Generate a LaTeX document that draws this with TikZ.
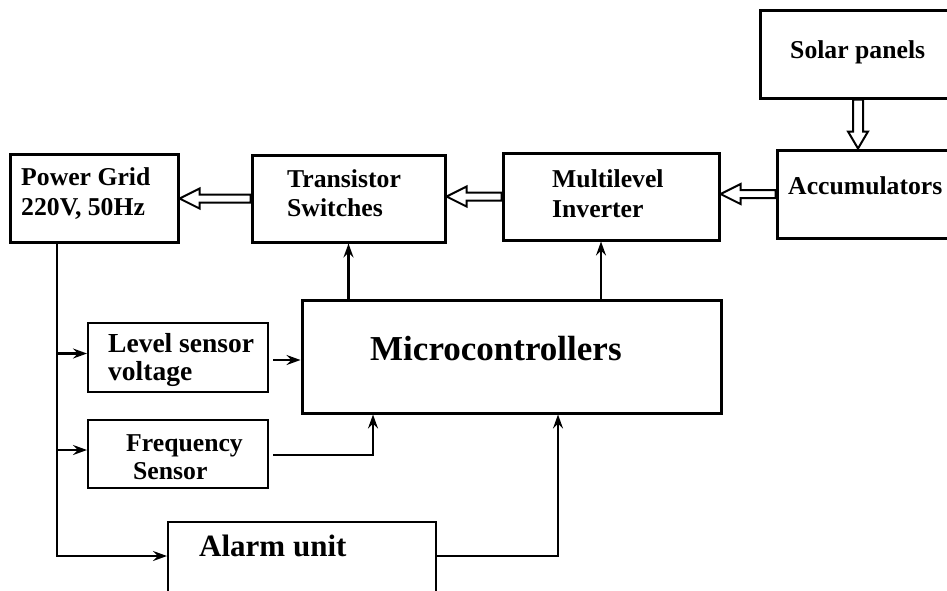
\documentclass[tikz,border=0pt]{standalone}
\usepackage{fontspec}
\setmainfont{Liberation Serif}
\usetikzlibrary{arrows.meta,calc}
\tikzset{
 box/.style={draw, line width=3pt, inner sep=0pt, rectangle},
 thinbox/.style={draw, line width=2pt, inner sep=0pt, rectangle},
 lbl/.style={anchor=base west, inner sep=0pt, font=\fontsize{25.7}{30}\selectfont\bfseries},
 conn/.style={line width=2.2pt, -{Stealth[length=14pt,width=10pt,inset=5pt]}},
 hollow/.style={draw, line width=2pt, fill=white, line join=miter},
}
\newcommand\hollowleft[2]{\path[hollow] let \p1=(#1), \p2=(#2) in (\x1,{\y1+4pt}) -- ({\x2+20pt},{\y1+4pt}) -- ({\x2+20pt},{\y1+10pt}) -- (\x2,\y1) -- ({\x2+20pt},{\y1-10pt}) -- ({\x2+20pt},{\y1-4pt}) -- (\x1,{\y1-4pt}) -- cycle;}
\newcommand\hollowdown[2]{\path[hollow] let \p1=(#1), \p2=(#2) in ({\x1-5pt},\y1) -- ({\x1-5pt},{\y2+17pt}) -- ({\x1-10pt},{\y2+17pt}) -- (\x1,\y2) -- ({\x1+10pt},{\y2+17pt}) -- ({\x1+5pt},{\y2+17pt}) -- ({\x1+5pt},\y1) -- cycle;}
\begin{document}
\begin{tikzpicture}[x=1pt,y=-1pt]
\useasboundingbox (0,0) rectangle (947,590);
\clip (0,0) rectangle (947,590);
% boxes
\node[box, minimum width=168pt, minimum height=88pt] (pg) at (94,198) {};
\node[box, minimum width=193pt, minimum height=87pt] (ts) at (348.5,198.5) {};
\node[box, minimum width=216pt, minimum height=87pt] (mi) at (611,196.5) {};
\node[box, minimum width=183pt, minimum height=88pt] (ac) at (868.5,194) {};
\node[box, minimum width=200pt, minimum height=88pt] (sp) at (860,54) {};
\node[box, minimum width=419pt, minimum height=113pt] (mc) at (511.5,356.5) {};
\node[thinbox, minimum width=180pt, minimum height=69pt] (ls) at (178,357.5) {};
\node[thinbox, minimum width=180pt, minimum height=68pt] (fs) at (178,454) {};
\node[thinbox, minimum width=268pt, minimum height=98pt] (al) at (302,571) {};
% labels
\node[lbl] (pg1) at (21,185) {Power Grid};
\node[lbl] (pg2) at (21,215) {220V, 50Hz};
\node[lbl] (ts1) at (287,187) {Transistor};
\node[lbl] (ts2) at (287,216) {Switches};
\node[lbl] (mi1) at (552,187) {Multilevel};
\node[lbl] (mi2) at (552,217) {Inverter};
\node[lbl] (ac1) at (788,194) {Accumulators};
\node[lbl] (sp1) at (790,58) {Solar panels};
\node[lbl, font=\fontsize{27.5}{30}\selectfont\bfseries] (ls1) at (108,352) {Level sensor};
\node[lbl, font=\fontsize{27.5}{30}\selectfont\bfseries] (ls2) at (108,380) {voltage};
\node[lbl] (fs1) at (126,451) {Frequency};
\node[lbl] (fs2) at (133,479) {Sensor};
\node[lbl, font=\fontsize{31}{36}\selectfont\bfseries] (al1) at (199,556) {Alarm unit};
\node[lbl, font=\fontsize{35}{40}\selectfont\bfseries] (mc1) at (370,360) {Microcontrollers};
% helper coordinates
\coordinate (spout) at ([xshift=-2pt]sp.south);
\coordinate (miin) at ([xshift=-10pt]mi.south);
\coordinate (tk) at ([xshift=-37pt]pg.south);
\coordinate (lsin) at ([yshift=4pt]ls.west);
\coordinate (fsin) at ([yshift=4pt]fs.west);
\coordinate (alin) at ([yshift=15pt]al.west);
\coordinate (lsout) at ([xshift=4pt,yshift=-2.5pt]ls.east);
\coordinate (fsout) at ([xshift=4pt,yshift=-1pt]fs.east);
\coordinate (alout) at ([yshift=15pt]al.east);
\coordinate (mcf) at ([xshift=-138.5pt]mc.south);
\coordinate (mca) at ([xshift=46.5pt]mc.south);
% power flow (hollow arrows)
\hollowdown{spout}{spout |- ac.north}
\hollowleft{ac.west}{mi.east |- ac.west}
\hollowleft{mi.west}{ts.east |- mi.west}
\hollowleft{ts.west}{pg.east |- ts.west}
% control connectors
\draw[conn] (mc.north -| ts.south) -- (ts.south);
\draw[conn] (mc.north -| miin) -- (miin);
\draw[conn] (tk) |- (alin);
\draw[conn] (tk |- lsin) -- (lsin);
\draw[conn] (tk |- fsin) -- (fsin);
\draw[conn] (lsout) -- (mc.west |- lsout);
\draw[conn] (fsout) -| (mcf);
\draw[conn] (alout) -| (mca);
\end{tikzpicture}
\end{document}
